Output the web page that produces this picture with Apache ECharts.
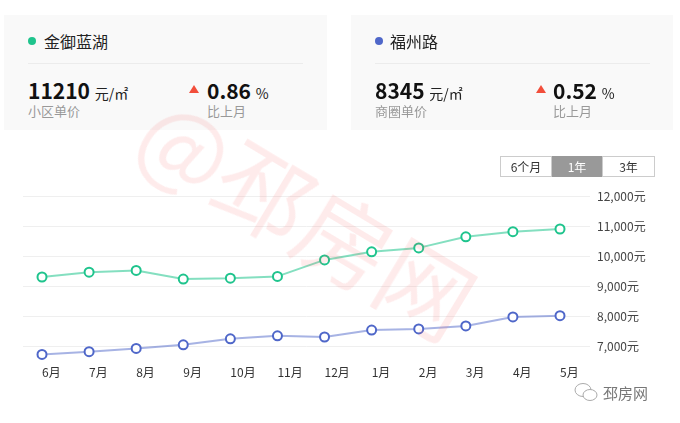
<!DOCTYPE html>
<html>
<head>
<meta charset="utf-8">
<script src="https://cdn.jsdelivr.net/npm/echarts@6/dist/echarts.min.js"></script>
<style>
  body { margin: 0; background: #fff; font-family: "Noto Sans CJK SC", "Noto Sans", sans-serif; }
  #wrap { position: relative; width: 680px; height: 423px; overflow: hidden; }
  #chart { position: absolute; left: 0; top: 0; width: 680px; height: 423px; }
  .card { position: absolute; top: 15px; height: 115px; background: #f9f9f9; }
  .abs { position: absolute; white-space: nowrap; }
  .dot { position: absolute; width: 8px; height: 8px; border-radius: 50%; }
  .title { font-size: 16px; color: #222; line-height: 20px; }
  .line { position: absolute; height: 1px; background: #ececec; }
  .num { font-size: 21px; font-weight: bold; color: #111; line-height: 24px; }
  .unit { font-size: 14px; font-weight: normal; color: #222; }
  .sub { font-size: 13px; color: #999; line-height: 16px; }
  .tri { position: absolute; width: 0; height: 0; border-left: 5px solid transparent; border-right: 5px solid transparent; border-bottom: 8px solid #f24e3b; }
  .btns { position: absolute; left: 500px; top: 156px; display: flex; }
  .btn { height: 19px; line-height: 19px; border: 1px solid #ccc; font-size: 12px; color: #333; text-align: center; }
  #mark { position: absolute; left: 185px; top: 60px; font-size: 94px; color: rgba(245, 90, 90, 0.12);
          transform: rotate(31deg); transform-origin: 0 0; white-space: nowrap; pointer-events: none; }
</style>
</head>
<body>
<div id="wrap">
  <div id="chart"></div>

  <div class="card" style="left:4px;width:323px;"></div>
  <div class="dot" style="left:28px;top:37px;background:#1fc48d;"></div>
  <div class="abs title" style="left:44px;top:31px;">金御蓝湖</div>
  <div class="line" style="left:28px;top:63px;width:275px;"></div>
  <div class="abs num" style="left:28px;top:78px;">11210 <span class="unit">元/㎡</span></div>
  <div class="abs sub" style="left:28px;top:103px;">小区单价</div>
  <div class="tri" style="left:189px;top:85px;"></div>
  <div class="abs num" style="left:207px;top:78px;">0.86 <span class="unit">%</span></div>
  <div class="abs sub" style="left:207px;top:103px;">比上月</div>

  <div class="card" style="left:351px;width:322px;"></div>
  <div class="dot" style="left:375px;top:37px;background:#4f67c9;"></div>
  <div class="abs title" style="left:390px;top:31px;">福州路</div>
  <div class="line" style="left:375px;top:63px;width:275px;"></div>
  <div class="abs num" style="left:375px;top:78px;">8345 <span class="unit">元/㎡</span></div>
  <div class="abs sub" style="left:375px;top:103px;">商圈单价</div>
  <div class="tri" style="left:536px;top:85px;"></div>
  <div class="abs num" style="left:553px;top:78px;">0.52 <span class="unit">%</span></div>
  <div class="abs sub" style="left:553px;top:103px;">比上月</div>

  <div class="btns">
    <div class="btn" style="width:50px;">6个月</div>
    <div class="btn" style="width:50px;background:#999;color:#fff;border-color:#999;border-left:none;border-right:none;">1年</div>
    <div class="btn" style="width:51px;">3年</div>
  </div>

  <svg class="abs" style="left:574px;top:382px;" width="26" height="22" viewBox="0 0 26 22">
    <ellipse cx="9" cy="8" rx="8" ry="6.5" fill="none" stroke="#aaa" stroke-width="1"/>
    <ellipse cx="16" cy="13" rx="7" ry="5.5" fill="#fff" stroke="#aaa" stroke-width="1"/>
  </svg>
  <div class="abs" style="left:603px;top:383px;font-size:15px;color:#777;line-height:20px;">邳房网</div>

  <div id="mark">@邳房网</div>
</div>
<script>
var months = ["6月", "7月", "8月", "9月", "10月", "11月", "12月", "1月", "2月", "3月", "4月", "5月"];
var jinyuPrices = [9300, 9460, 9520, 9230, 9260, 9320, 9870, 10140, 10270, 10640, 10810, 10900];
var fuzhouPrices = [6720, 6810, 6920, 7040, 7240, 7340, 7300, 7530, 7570, 7670, 7970, 8010];
var yTicks = { min: 7000, max: 12000, step: 1000 };

function fmt(v) {
  return String(v).replace(/\B(?=(\d{3})+(?!\d))/g, ",") + "元";
}

var chart = echarts.init(document.getElementById("chart"));
chart.setOption({
  animation: false,
  grid: [
    // background grid lines + y labels
    { left: 23, right: 90, top: 196, bottom: 77 },
    // data area
    { left: 42, right: 120, top: 196, bottom: 62 }
  ],
  xAxis: [
    { gridIndex: 0, type: "category", data: months, show: false },
    {
      gridIndex: 1,
      type: "category",
      data: months,
      boundaryGap: false,
      axisLine: { show: false },
      axisTick: { show: false },
      axisLabel: { align: "left", margin: 5, color: "#333", fontSize: 12, fontFamily: "Noto Sans CJK SC" }
    }
  ],
  yAxis: [
    {
      gridIndex: 0,
      type: "value",
      position: "right",
      min: yTicks.min,
      max: yTicks.max,
      interval: yTicks.step,
      axisLine: { show: false },
      axisTick: { show: false },
      splitLine: { lineStyle: { color: "#efefef" } },
      axisLabel: { margin: 7, color: "#444", fontSize: 12, fontFamily: "Noto Sans CJK SC", formatter: fmt }
    },
    { gridIndex: 1, type: "value", min: 6500, max: 12000, show: false }
  ],
  series: [
    {
      name: "金御蓝湖",
      type: "line",
      xAxisIndex: 1,
      yAxisIndex: 1,
      data: jinyuPrices,
      symbol: "emptyCircle",
      symbolSize: 9,
      lineStyle: { color: "rgba(31,196,141,0.55)", width: 2 },
      itemStyle: { color: "#1fc48d", borderWidth: 2 }
    },
    {
      name: "福州路",
      type: "line",
      xAxisIndex: 1,
      yAxisIndex: 1,
      data: fuzhouPrices,
      symbol: "emptyCircle",
      symbolSize: 9,
      lineStyle: { color: "rgba(79,103,201,0.5)", width: 2 },
      itemStyle: { color: "#4f67c9", borderWidth: 2 }
    }
  ]
});
</script>
</body>
</html>
